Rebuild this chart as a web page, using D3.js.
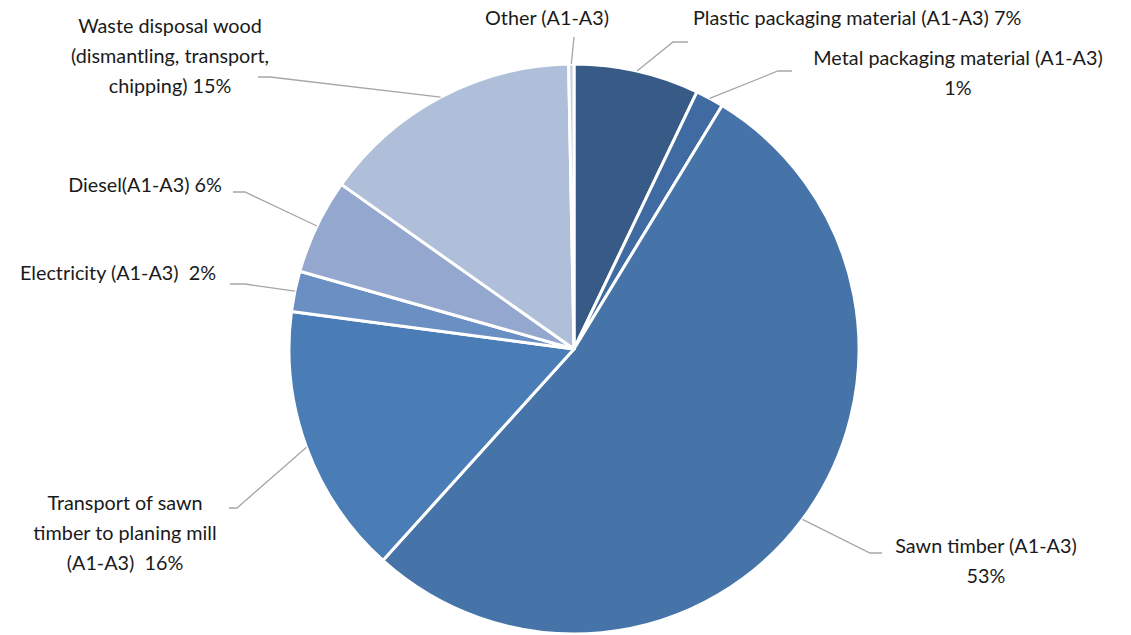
<!DOCTYPE html>
<html>
<head>
<meta charset="utf-8">
<script src="https://cdn.jsdelivr.net/npm/d3@7"></script>
<style>
  body { margin: 0; background: #fff; }
  svg { display: block; }
  text { font-family: Lato, "Open Sans", sans-serif; font-size: 19.8px; fill: #1a1a1a; white-space: pre; }
</style>
</head>
<body>
<svg width="1131" height="635"></svg>
<script>
// slices clockwise from 12 o'clock
const categories = [
  "Plastic packaging material (A1-A3)",
  "Metal packaging material (A1-A3)",
  "Sawn timber (A1-A3)",
  "Transport of sawn timber to planing mill (A1-A3)",
  "Electricity (A1-A3)",
  "Diesel(A1-A3)",
  "Waste disposal wood (dismantling, transport, chipping)",
  "Other (A1-A3)"
];
const shares = [7.1, 1.6, 53.0, 15.4, 2.3, 5.4, 14.9, 0.3];
const labelLines = [
  ["Plastic packaging material (A1-A3) 7%"],
  ["Metal packaging material (A1-A3)", "1%"],
  ["Sawn timber (A1-A3)", "53%"],
  ["Transport of sawn", "timber to planing mill", "(A1-A3)  16%"],
  ["Electricity (A1-A3)  2%"],
  ["Diesel(A1-A3) 6%"],
  ["Waste disposal wood", "(dismantling, transport,", "chipping) 15%"],
  ["Other (A1-A3)"]
];
const colors = ["#375a87", "#3f6ba2", "#4674a8", "#4a7db6", "#6a8fc3", "#94a8cf", "#afbfda", "#c4cfe5"];

// label placement: text anchor point, elbow point and end of leader
const labelLayout = [
  { x: 693, y: 25, anchor: "start", elbow: [673, 42], end: [688, 42] },
  { x: 958, y: 65, anchor: "middle", elbow: [778, 71], end: [792, 71] },
  { x: 986, y: 553, anchor: "middle", elbow: [870, 553], end: [882, 553] },
  { x: 125, y: 510, anchor: "middle", elbow: [237, 508], end: [229, 508] },
  { x: 118, y: 280, anchor: "middle", elbow: [245, 284], end: [230, 284] },
  { x: 145, y: 192, anchor: "middle", elbow: [245, 192], end: [233, 192] },
  { x: 170, y: 33, anchor: "middle", elbow: [270, 77], end: [258, 77] },
  { x: 547, y: 25, anchor: "middle", elbow: [574, 37], end: [574, 37] }
];

const svg = d3.select("svg");
const cx = 574, cy = 349, r = 285;
const g = svg.append("g").attr("transform", `translate(${cx},${cy})`);

const pie = d3.pie().sort(null).value(d => d)(shares);
const arc = d3.arc().innerRadius(0).outerRadius(r);

g.selectAll("path.slice")
  .data(pie)
  .join("path")
  .attr("class", "slice")
  .attr("d", arc)
  .attr("fill", (d, i) => colors[i])
  .attr("stroke", "#fff")
  .attr("stroke-width", 3)
  .attr("stroke-linejoin", "round");

// leader lines
const leaderStart = d => {
  const a = (d.startAngle + d.endAngle) / 2;
  return [cx + r * Math.sin(a), cy - r * Math.cos(a)];
};
svg.selectAll("polyline.leader")
  .data(pie)
  .join("polyline")
  .attr("class", "leader")
  .attr("points", (d, i) => {
    const s = leaderStart(d);
    const L = labelLayout[i];
    return [s, L.elbow, L.end].map(p => p.join(",")).join(" ");
  })
  .attr("fill", "none")
  .attr("stroke", "#a6a6a6")
  .attr("stroke-width", 1.3);

// labels
svg.selectAll("text.label")
  .data(pie)
  .join("text")
  .attr("class", "label")
  .attr("text-anchor", (d, i) => labelLayout[i].anchor)
  .each(function (d, i) {
    const L = labelLayout[i];
    d3.select(this).selectAll("tspan")
      .data(labelLines[i])
      .join("tspan")
      .attr("x", L.x)
      .attr("y", (t, j) => L.y + j * 30)
      .text(t => t);
  });
</script>
</body>
</html>
